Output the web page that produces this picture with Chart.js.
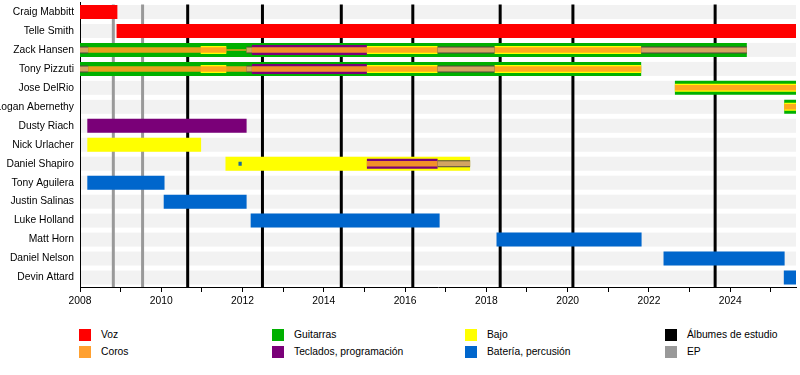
<!DOCTYPE html>
<html>
<head>
<meta charset="utf-8">
<script src="https://cdn.jsdelivr.net/npm/chart.js@4/dist/chart.umd.min.js"></script>
<style>
  html,body{margin:0;padding:0;background:#fff;}
  #wrap{position:relative;width:800px;height:375px;overflow:hidden;font-family:'Liberation Sans',Arial,sans-serif;}
  #box{position:absolute;left:0;top:0;width:800px;height:310px;}
  .lg{position:absolute;font-size:10.3px;color:#000;line-height:12px;white-space:nowrap;}
  .lg i{position:absolute;left:0;top:0;width:12px;height:12px;}
  .lg span{position:absolute;left:22px;top:0;}
</style>
</head>
<body>
<div id="wrap">
  <div id="box"><canvas id="c"></canvas></div>
  <div id="legend"></div>
</div>
<script>
const members = ['Craig Mabbitt','Telle Smith','Zack Hansen','Tony Pizzuti','Jose DelRio','Logan Abernethy','Dusty Riach','Nick Urlacher','Daniel Shapiro','Tony Aguilera','Justin Salinas','Luke Holland','Matt Horn','Daniel Nelson','Devin Attard'];
const START = 2008;
const END = 2025.62;
const tickYears = [2008,2010,2012,2014,2016,2018,2020,2022,2024];

const vocals = [['Craig Mabbitt',2008,2008.92],['Telle Smith',2008.9,END]];
const guitars = [['Zack Hansen',2008,2024.41],['Tony Pizzuti',2008,2021.81],['Jose DelRio',2022.64,END],['Logan Abernethy',2025.33,END]];
const keyboards = [['Dusty Riach',2008.18,2012.1]];
const keyboardsShared = [['Zack Hansen',2012.23,2015.06],['Tony Pizzuti',2012.23,2015.06],['Daniel Shapiro',2015.06,2016.8]];
const bass = [['Nick Urlacher',2008.18,2010.98],['Daniel Shapiro',2011.58,2017.6]];
const bassShared = [['Zack Hansen',2010.97,2011.6],['Zack Hansen',2015.06,2016.8],['Zack Hansen',2018.2,2021.81],['Tony Pizzuti',2010.97,2011.6],['Tony Pizzuti',2015.06,2016.8],['Tony Pizzuti',2018.2,2021.81],['Jose DelRio',2022.64,END],['Logan Abernethy',2025.33,END]];
const backing = [['Zack Hansen',2008,2011.6],['Zack Hansen',2012.1,2024.41],['Tony Pizzuti',2008,2021.81],['Jose DelRio',2022.64,END],['Logan Abernethy',2025.33,END],['Daniel Shapiro',2015.06,2016.8]];
const backingThin = [['Zack Hansen',2011.6,2012.1]];
const mixed = [['Zack Hansen',2008,2008.2],['Zack Hansen',2012.1,2012.23],['Zack Hansen',2016.8,2018.2],['Zack Hansen',2021.81,2024.41],['Tony Pizzuti',2008,2008.2],['Tony Pizzuti',2012.1,2012.23],['Tony Pizzuti',2016.8,2018.2],['Daniel Shapiro',2016.8,2017.6]];
const drums = [['Tony Aguilera',2008.18,2010.08],['Justin Salinas',2010.06,2012.1],['Luke Holland',2012.2,2016.85],['Matt Horn',2018.25,2021.82],['Daniel Nelson',2022.36,2025.34],['Devin Attard',2025.32,END]];
const drumsShort = [['Daniel Shapiro',2011.9,2011.98]];
const studioAlbums = [2010.65,2012.49,2014.43,2016.19,2018.34,2020.13,2023.63];
const eps = [2008.82,2009.54];

const legendItems = [
  ['Voz','#ff0000'],['Coros','#ffa030'],
  ['Guitarras','#00b000'],['Teclados, programación','#7a0078'],
  ['Bajo','#ffff00'],['Batería, percusión','#0066cc'],
  ['Álbumes de estudio','#000000'],['EP','#999999']
];

function seg(list){ return list.map(s => ({y:s[0], x:[s[1], s[2]]})); }
function ds(label, list, color, thick, order){
  return {label, data: seg(list), backgroundColor: color, barThickness: thick, order, grouped:false, borderWidth:0, inflateAmount:0};
}

const datasets = [
  ds('Voz', vocals, '#ff0000', 14, 10),
  ds('Guitarras', guitars, '#00b000', 14, 10),
  ds('Teclados', keyboards, '#7a0078', 14, 10),
  ds('Bajo', bass, '#ffff00', 14, 10),
  ds('Batería', drums, '#0066cc', 14, 10),
  ds('Teclados2', keyboardsShared, '#7a0078', 10, 8),
  ds('Bajo2', bassShared, '#ffff00', 8, 7),
  ds('Coros', backing, 'rgba(255,160,32,0.9)', 5.5, 5),
  ds('Coros2', backingThin, 'rgba(255,160,32,0.9)', 1.5, 5),
  ds('Mixto', mixed, '#4d4a3a', 7, 4),
  ds('Mixto2', mixed, '#d2a462', 5, 3),
  ds('Batería2', drumsShort, '#1a6a9a', 4, 2)
];

const bandsPlugin = {
  id: 'bands',
  beforeDatasetsDraw(chart){
    const {ctx, chartArea:a, scales:{x, y}} = chart;
    ctx.save();
    ctx.fillStyle = '#f2f2f2';
    members.forEach((m, i) => {
      const cy = y.getPixelForValue(i);
      ctx.fillRect(a.left + 1, cy - 7, a.right - a.left - 1, 14);
    });
    ctx.lineWidth = 3;
    const drawLines = (vals, col) => {
      ctx.strokeStyle = col;
      vals.forEach(v => {
        const px = x.getPixelForValue(v);
        ctx.beginPath(); ctx.moveTo(px, a.top + 2); ctx.lineTo(px, a.bottom); ctx.stroke();
      });
    };
    drawLines(eps, '#999999');
    drawLines(studioAlbums, '#000000');
    ctx.restore();
  }
};

Chart.defaults.font.family = "'Liberation Sans', Arial, sans-serif";
Chart.defaults.font.size = 10.3;
Chart.defaults.color = '#000';

new Chart(document.getElementById('c'), {
  type: 'bar',
  data: { labels: members, datasets },
  options: {
    indexAxis: 'y',
    responsive: true,
    maintainAspectRatio: false,
    animation: false,
    layout: { padding: { top: 2.5, right: 4, left: 0, bottom: 0 } },
    plugins: { legend: { display: false }, tooltip: { enabled: false } },
    scales: {
      x: {
        type: 'linear', min: START, max: END,
        grid: { display: true, drawOnChartArea: false, drawTicks: true, tickLength: 5, tickColor: '#000' },
        border: { display: true, color: '#000', width: 1 },
        ticks: { stepSize: 1, includeBounds: false, autoSkip: false, maxRotation: 0, padding: 3,
          callback: v => tickYears.includes(v) ? String(v) : '' },
        afterFit: s => { s.height = 23; s.paddingRight = 0; }
      },
      y: {
        type: 'category',
        grid: { display: false, drawTicks: false },
        border: { display: true, color: '#000', width: 1 },
        ticks: { padding: 6, autoSkip: false },
        afterFit: s => { s.width = 80; s.paddingTop = 0; s.paddingBottom = 0; }
      }
    }
  },
  plugins: [bandsPlugin]
});

const lg = document.getElementById('legend');
const colX = [79, 272, 465, 665];
const rowY = [329, 346];
legendItems.forEach((it, k) => {
  const col = Math.floor(k / 2), row = k % 2;
  const d = document.createElement('div');
  d.className = 'lg';
  d.style.left = colX[col] + 'px';
  d.style.top = rowY[row] + 'px';
  d.innerHTML = '<i style="background:' + it[1] + '"></i><span>' + it[0] + '</span>';
  lg.appendChild(d);
});
</script>
</body>
</html>
